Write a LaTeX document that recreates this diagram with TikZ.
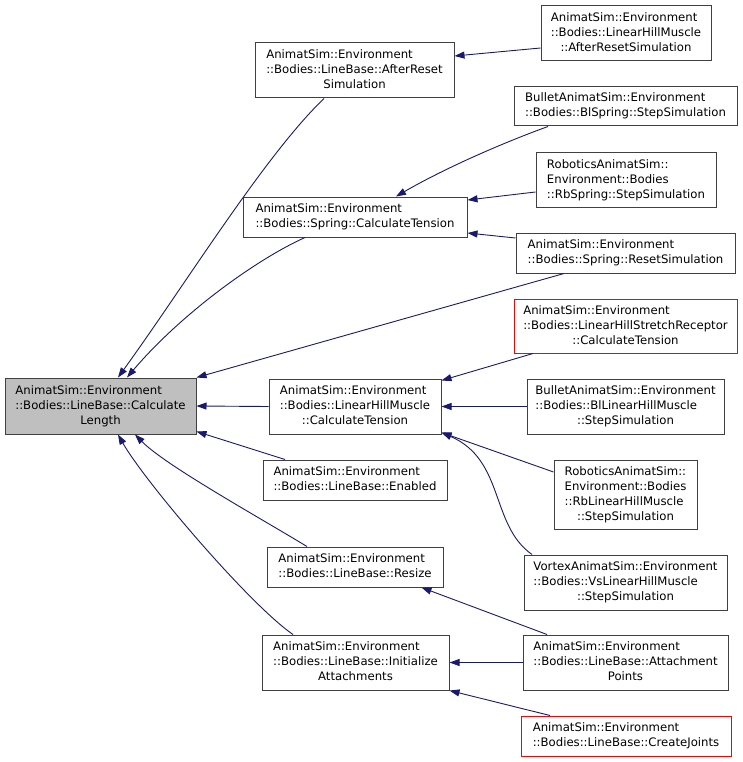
\documentclass[tikz,border=0pt]{standalone}
\usepackage{fontspec}
\setmainfont{DejaVu Sans}
\usetikzlibrary{arrows.meta}
\definecolor{edgeblue}{RGB}{25,25,112}
\definecolor{boxline}{RGB}{64,64,64}
\definecolor{rootfill}{RGB}{191,191,191}
\newcommand{\dlab}[2]{\begin{tabular}{@{}l@{}}#1\\\multicolumn{1}{@{}c@{}}{#2}\end{tabular}}
\begin{document}
\begin{tikzpicture}[x=1pt,y=-1pt,
  fn/.style={draw=boxline, line width=1pt, rectangle, inner sep=0pt,
    font=\fontsize{11.7}{15}\selectfont, text=black},
  redfn/.style={fn, draw=red},
  rootfn/.style={fn, fill=rootfill},
  call/.style={draw=edgeblue, line width=0.9pt,
    -{Triangle[length=10pt,width=7pt,fill=edgeblue]}}]
\useasboundingbox (0,0) rectangle (743,762);

\node[rootfn, minimum width=191pt, minimum height=56pt] (root) at (100.5,406)
  {\dlab{AnimatSim::Environment\\::Bodies::LineBase::Calculate}{Length}};
\node[fn, minimum width=199pt, minimum height=55pt] (abr) at (354.5,70.5)
  {\dlab{AnimatSim::Environment\\::Bodies::LineBase::AfterReset}{Simulation}};
\node[fn, minimum width=170pt, minimum height=55pt] (lhmar) at (626,33.5)
  {\dlab{AnimatSim::Environment\\::Bodies::LinearHillMuscle}{::AfterResetSimulation}};
\node[fn, minimum width=223pt, minimum height=39pt] (blspring) at (625.5,106.5)
  {\dlab{BulletAnimatSim::Environment}{::Bodies::BlSpring::StepSimulation}};
\node[fn, minimum width=180pt, minimum height=54pt] (rbspring) at (626,180)
  {\dlab{RoboticsAnimatSim::\\Environment::Bodies}{::RbSpring::StepSimulation}};
\node[fn, minimum width=224pt, minimum height=40pt] (springct) at (355,217)
  {\dlab{AnimatSim::Environment}{::Bodies::Spring::CalculateTension}};
\node[fn, minimum width=219pt, minimum height=40pt] (resetsim) at (625.5,253)
  {\dlab{AnimatSim::Environment}{::Bodies::Spring::ResetSimulation}};
\node[redfn, minimum width=223pt, minimum height=54pt] (lhsr) at (625.5,326)
  {\dlab{AnimatSim::Environment\\::Bodies::LinearHillStretchReceptor}{::CalculateTension}};
\node[fn, minimum width=172pt, minimum height=55pt] (lhmct) at (355,406.5)
  {\dlab{AnimatSim::Environment\\::Bodies::LinearHillMuscle}{::CalculateTension}};
\node[fn, minimum width=197pt, minimum height=55pt] (bllhm) at (625.5,406.5)
  {\dlab{BulletAnimatSim::Environment\\::Bodies::BlLinearHillMuscle}{::StepSimulation}};
\node[fn, minimum width=184pt, minimum height=40pt] (enabled) at (355,480)
  {\dlab{AnimatSim::Environment}{::Bodies::LineBase::Enabled}};
\node[fn, minimum width=143pt, minimum height=69pt] (rblhm) at (625.5,494.5)
  {\dlab{RoboticsAnimatSim::\\Environment::Bodies\\::RbLinearHillMuscle}{::StepSimulation}};
\node[fn, minimum width=203pt, minimum height=55pt] (vslhm) at (625.5,582.5)
  {\dlab{VortexAnimatSim::Environment\\::Bodies::VsLinearHillMuscle}{::StepSimulation}};
\node[fn, minimum width=176pt, minimum height=40pt] (resize) at (355,567)
  {\dlab{AnimatSim::Environment}{::Bodies::LineBase::Resize}};
\node[fn, minimum width=205pt, minimum height=55pt] (attpts) at (625.5,662.5)
  {\dlab{AnimatSim::Environment\\::Bodies::LineBase::Attachment}{Points}};
\node[fn, minimum width=187pt, minimum height=55pt] (initatt) at (355.5,662.5)
  {\dlab{AnimatSim::Environment\\::Bodies::LineBase::Initialize}{Attachments}};
\node[redfn, minimum width=210pt, minimum height=40pt] (createjoints) at (626,736)
  {\dlab{AnimatSim::Environment}{::Bodies::LineBase::CreateJoints}};

% connectors (caller -> callee)
\draw[call] ([yshift=-14.5pt]lhmar.west) -- ([yshift=14.5pt]abr.east);
\draw[call] ([xshift=-77.5pt]blspring.south) .. controls (505,142) and (445,168) .. ([xshift=41pt]springct.north);
\draw[call] ([yshift=-12pt]rbspring.west) -- ([yshift=17pt]springct.east);
\draw[call] ([yshift=15pt]resetsim.west) -- ([yshift=-16pt]springct.east);
\draw[call] ([xshift=-50pt]springct.south) .. controls (255,260) and (180,315) .. ([xshift=26.5pt]root.north);
\draw[call] ([xshift=-30.5pt]abr.south) .. controls (265,155) and (185,285) .. ([xshift=17.5pt]root.north);
\draw[call] ([xshift=-61.5pt]resetsim.south) -- (root.north east);
\draw[call] ([xshift=-92.5pt]lhsr.south) -- ([yshift=-2pt]lhmct.north east);
\draw[call] (bllhm.west) -- (lhmct.east);
\draw[call] ([yshift=22.5pt]rblhm.west) -- ([yshift=2pt]lhmct.south east);
\draw[call] ([xshift=-93.5pt]vslhm.north) .. controls (490,525) and (505,460) .. ([yshift=2pt]lhmct.south east);
\draw[call] (lhmct.west) -- (root.east);
\draw[call] ([xshift=-70pt]enabled.north) -- ([yshift=3pt]root.south east);
\draw[call] ([xshift=-48pt]resize.north) .. controls (255,515) and (165,465) .. ([xshift=34.5pt]root.south);
\draw[call] ([xshift=-62.5pt]initatt.north) .. controls (250,605) and (145,482) .. ([xshift=17.5pt]root.south);
\draw[call] ([xshift=-78.5pt]attpts.north) -- ([xshift=-22pt]resize.south east);
\draw[call] (attpts.west) -- (initatt.east);
\draw[call] ([xshift=-76pt]createjoints.north) -- (initatt.south east);
\end{tikzpicture}
\end{document}
